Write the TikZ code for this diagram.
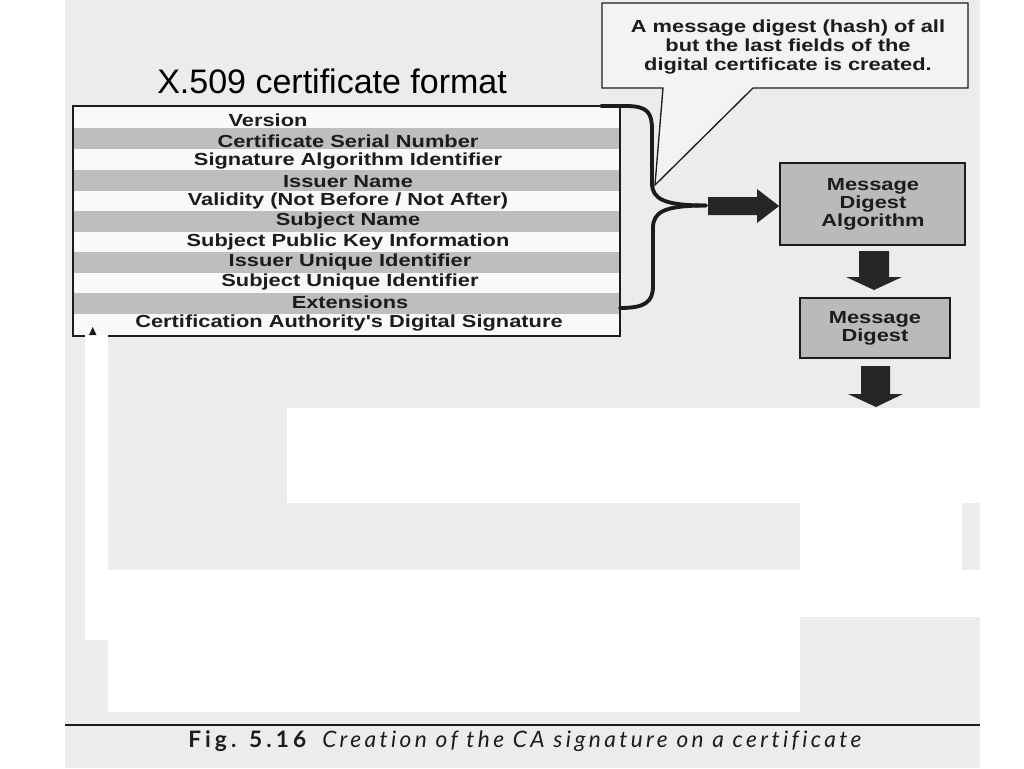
\documentclass[tikz,border=0pt]{standalone}
\usepackage{fontspec}
\setmainfont{Liberation Sans}
\newfontfamily\boxfont[FakeStretch=1.25]{Liberation Sans}
\newfontfamily\capfontb[LetterSpace=18,Ligatures=NoCommon]{Lato}
\newfontfamily\capfonti[LetterSpace=15,Ligatures=NoCommon]{Lato}
\definecolor{scanbg}{RGB}{236,236,236}
\definecolor{rowgray}{RGB}{190,190,190}
\definecolor{rowwhite}{RGB}{249,249,249}
\definecolor{boxgray}{RGB}{186,186,186}
\definecolor{ink}{RGB}{28,28,28}
\definecolor{arrowink}{RGB}{38,38,38}
\definecolor{calloutfill}{RGB}{243,243,243}
\begin{document}
\begin{tikzpicture}[x=0.75pt,y=-0.75pt,
  fieldtext/.style={font=\boxfont\bfseries\fontsize{13.1}{13.5}\selectfont, text=ink, inner sep=0pt, anchor=base},
  boxtext/.style={font=\boxfont\bfseries\fontsize{13.1}{13.6}\selectfont, text=ink, align=center, inner sep=0pt},
  grayblock/.style={draw=ink, line width=1.3pt, fill=boxgray, inner sep=0pt},
  blockarrow/.style={fill=arrowink},
  bracestyle/.style={draw=ink, line width=2.9pt, line cap=round},
  pointer/.style={draw=ink, line width=1pt, line join=miter}
]
\useasboundingbox (0,0) rectangle (1024,768);
% scanned page background
\fill[white] (0,0) rectangle (1024,768);
\fill[scanbg] (65,0) rectangle (980,768);
\fill[white] (287,408) rectangle (980,503);
\fill[white] (108,570) rectangle (800,712);
\fill[white] (85,570) rectangle (108,640);
\fill[white] (800,503) rectangle (962,617);
\fill[white] (962,570) rectangle (980,617);

% title
\node[anchor=base west, inner sep=0pt, font=\fontsize{25.5}{29}\selectfont, text=black] (title) at (157,93) {X.509 certificate format};

% certificate box
\coordinate (cNW) at (73,106);
\coordinate (cSE) at (620,336);
\fill[rowwhite] (cNW) rectangle (cSE);
\foreach \a/\b in {128/149,170/191,211/232,252/273,293/314}
  \fill[rowgray] (74,\a) rectangle (619,\b);
\draw[ink, line width=1.2pt] (cNW) rectangle (cSE);
\node[fieldtext] (f1) at (268,126) {Version};
\node[fieldtext] (f2) at (348,147) {Certificate Serial Number};
\node[fieldtext] (f3) at (348,165.5) {Signature Algorithm Identifier};
\node[fieldtext] (f4) at (348,187) {Issuer Name};
\node[fieldtext] (f5) at (348,205.5) {Validity (Not Before / Not After)};
\node[fieldtext] (f6) at (348,225.5) {Subject Name};
\node[fieldtext] (f7) at (348,246) {Subject Public Key Information};
\node[fieldtext] (f8) at (350,266) {Issuer Unique Identifier};
\node[fieldtext] (f9) at (350,286) {Subject Unique Identifier};
\node[fieldtext] (f10) at (350,308) {Extensions};
\node[fieldtext] (f11) at (349,327) {Certification Authority's Digital Signature};
\fill[white] (85,335) rectangle (108,570);
\fill[ink] (89,335) -- (96.5,335) -- (92.7,327) -- cycle;

% callout
\coordinate (tip) at (655,185);
\draw[pointer, fill=calloutfill] (663,88) -- (602,88) -- (602,3) -- (968,3) -- (968,88) -- (753,88) -- (tip) -- cycle;
\node[boxtext, font=\boxfont\bfseries\fontsize{13.1}{13.9}\selectfont] (callout) at (788,47) {A message digest (hash) of all\\but the last fields of the\\digital certificate is created.};

% brace
\coordinate (btop) at (601,106);
\coordinate (bmid) at (706,205.5);
\coordinate (bbot) at (620,308);
\draw[bracestyle] (btop) -- (626,106) .. controls (648,106) and (652,113) .. (652,130) -- (652,183)
  .. controls (652,199) and (664,205.5) .. (bmid);
\draw[bracestyle] (bmid) .. controls (664,205.5) and (653,212) .. (653,228) -- (653,286)
  .. controls (653,302) and (645,308) .. (bbot);

% message digest algorithm and digest
\node[grayblock, minimum width=138.75pt, minimum height=61.5pt] (mda) at (872.5,204) {};
\node[boxtext] (mdat) at (873,204) {Message\\Digest\\Algorithm};
\node[grayblock, minimum width=112.5pt, minimum height=45pt] (md) at (875,328) {};
\node[boxtext] (mdt) at (875,328) {Message\\Digest};

% block arrows
\fill[blockarrow] (708,197) -- (757,197) -- (757,189) -- (mda.west |- 0,206) -- (757,223) -- (757,215) -- (708,215) -- cycle;
\fill[blockarrow] (859,251) -- (889,251) -- (889,277) -- (902,277) -- (874,290) -- (846,277) -- (859,277) -- cycle;
\fill[blockarrow] (861,366) -- (890,366) -- (890,394) -- (903,394) -- (876,407) -- (848,394) -- (861,394) -- cycle;

% caption
\draw[ink, line width=1.6pt] (65,725) -- (980,725);
\node[anchor=base west, inner sep=0pt, font=\capfontb\bfseries\fontsize{17}{20}\selectfont, text=ink] (figno) at (188,747) {Fig. 5.16};
\node[anchor=base west, inner sep=0pt, font=\capfonti\itshape\fontsize{17}{20}\selectfont, text=ink] (captxt) at (322,747) {Creation of the CA signature on a certificate};
\end{tikzpicture}
\end{document}
